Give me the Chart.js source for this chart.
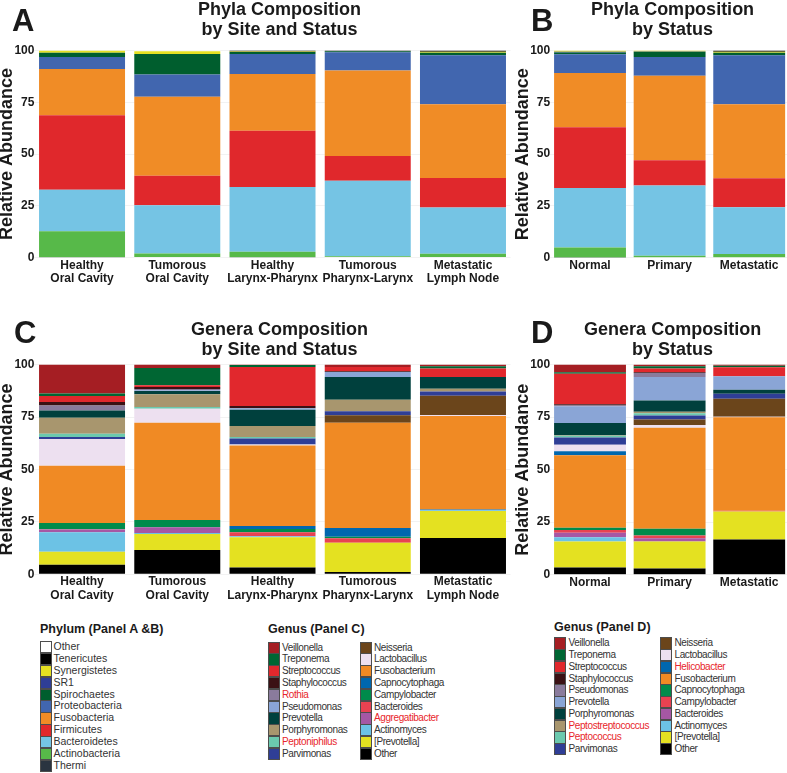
<!DOCTYPE html>
<html><head><meta charset="utf-8">
<script src="https://cdn.jsdelivr.net/npm/chart.js@4.4.1/dist/chart.umd.min.js"></script>
<style>
html,body{margin:0;padding:0;background:#fff;}
body{width:787px;height:773px;position:relative;overflow:hidden;font-family:'Liberation Sans',Arial,sans-serif;}
canvas{position:absolute;}
.letter{position:absolute;font-weight:bold;font-size:31px;line-height:30px;color:#1a1a1a;}
.lgtitle{position:absolute;font-weight:bold;font-size:12.5px;line-height:14px;color:#1a1a1a;white-space:nowrap;}
.lgbox{position:absolute;box-sizing:border-box;border:1px solid #4d4d4d;}
.lgtext{position:absolute;white-space:nowrap;color:#333;}
</style></head>
<body>
<canvas id="cA" width="512" height="292" style="left:0;top:0"></canvas>
<canvas id="cB" width="278" height="292" style="left:512px;top:0"></canvas>
<canvas id="cC" width="512" height="288" style="left:0;top:320px"></canvas>
<canvas id="cD" width="278" height="288" style="left:512px;top:320px"></canvas>
<div class="letter" style="left:12px;top:6px">A</div>
<div class="letter" style="left:531px;top:6px">B</div>
<div class="letter" style="left:14px;top:318px">C</div>
<div class="letter" style="left:531px;top:318px">D</div>
<div class="lgtitle" style="left:40px;top:622px">Phylum (Panel A &amp;B)</div>
<div class="lgtitle" style="left:268px;top:622px">Genus (Panel C)</div>
<div class="lgtitle" style="left:554px;top:620px">Genus (Panel D)</div>
<div id="legends"></div>
<script>
const FONT = "'Liberation Sans', Arial, sans-serif";

// ---- categories / ticks ----
const siteLabels = [['Healthy','Oral Cavity'],['Tumorous','Oral Cavity'],['Healthy','Larynx-Pharynx'],['Tumorous','Pharynx-Larynx'],['Metastatic','Lymph Node']];
const statusLabels = ['Normal','Primary','Metastatic'];
const yTicks = [0,25,50,75,100];

// ---- phyla (stack order bottom -> top) ----
const phylumNames = ['Thermi','Actinobacteria','Bacteroidetes','Firmicutes','Fusobacteria','Proteobacteria','Spirochaetes','SR1','Synergistetes','Tenericutes','Other'];
const phylumColors = ['#2a3440','#57b949','#75c4e4','#e0282c','#f08c26','#4166af','#005e2e','#2f3e96','#e5e022','#000000','#ffffff'];
const phylumLegendOrder = ['Other','Tenericutes','Synergistetes','SR1','Spirochaetes','Proteobacteria','Fusobacteria','Firmicutes','Bacteroidetes','Actinobacteria','Thermi'];

// Panel A values (one array per bar, in phylumNames order)
const phylaHealthyOral     = [0.1, 12.5, 20.1, 36.0, 22.4,  5.8,  2.0, 0.0, 1.1, 0.0, 0.0];
const phylaTumorousOral    = [0.0,  1.9, 23.3, 14.3, 38.2, 10.7, 10.0, 0.0, 1.3, 0.0, 0.3];
const phylaHealthyLarPhar  = [0.1,  2.6, 31.3, 27.2, 27.5,  9.6,  1.0, 0.0, 0.3, 0.4, 0.0];
const phylaTumorousPharLar = [0.0,  0.6, 36.5, 11.9, 41.4,  8.8,  0.5, 0.0, 0.0, 0.3, 0.0];
const phylaMetLymph        = [0.0,  1.8, 22.3, 14.3, 35.7, 23.6,  1.3, 0.0, 0.4, 0.6, 0.0];
// Panel B values
const phylaNormal     = [0.1, 4.8, 28.8, 29.3, 26.2,  9.0, 0.9, 0.3, 0.6, 0.0, 0.0];
const phylaPrimary    = [0.0, 1.0, 33.9, 12.2, 40.7,  9.1, 2.5, 0.2, 0.4, 0.0, 0.0];
const phylaMetastatic = [0.0, 1.8, 22.6, 14.0, 35.7, 23.6, 1.3, 0.0, 0.4, 0.6, 0.0];

// ---- genera panel C (stack order bottom -> top) ----
const genusNamesC = ['Other','[Prevotella]','Actinomyces','Aggregatibacter','Bacteroides','Campylobacter','Capnocytophaga','Fusobacterium','Lactobacillus','Neisseria','Parvimonas','Peptoniphilus','Porphyromonas','Prevotella','Pseudomonas','Rothia','Staphylococcus','Streptococcus','Treponema','Veillonella'];
const genusColorsC = ['#000000','#e4e121','#6cc2e5','#a657a4','#e84251','#008b4b','#0067ae','#f08a24','#ede0f0','#6b451b','#2f3e96','#6bc9ae','#a8966e','#00403d','#8aa5d6','#8a7b9c','#3b1114','#e1282d','#006633','#a51e23'];
const redGenusC = ['Rothia','Peptoniphilus','Aggregatibacter'];

const generaHealthyOral     = [ 4.5,  6.2, 9.3, 1.3, 0.2, 2.9, 0.0, 27.3, 12.8, 0.0, 0.9, 1.6, 7.7,  3.4, 0.0, 2.4, 1.7,  2.8, 1.2, 13.8];
const generaTumorousOral    = [11.5,  7.7, 0.5, 2.7, 0.0, 3.4, 0.0, 46.5,  6.6, 0.0, 0.0, 0.9, 6.0,  1.6, 0.4, 0.5, 1.0,  0.9, 8.2,  1.6];
const generaHealthyLarPhar  = [ 3.2, 14.4, 0.5, 0.0, 1.9, 1.6, 1.4, 38.4,  0.5, 0.0, 2.9, 0.6, 5.3,  7.7, 0.8, 0.0, 1.0, 18.7, 0.9,  0.2];
const generaTumorousPharLar = [ 1.0, 14.0, 0.0, 0.0, 2.1, 0.8, 4.2, 50.2,  0.0, 3.5, 2.0, 0.0, 5.4, 10.9, 2.4, 0.0, 0.3,  2.1, 0.0,  1.1];
const generaMetLymph        = [17.3, 12.8, 0.4, 0.0, 0.0, 0.0, 0.4, 44.6,  0.5, 9.1, 2.1, 0.0, 1.3,  5.6, 0.0, 0.0, 0.0,  4.0, 1.1,  0.8];

// ---- genera panel D (stack order bottom -> top) ----
const genusNamesD = ['Other','[Prevotella]','Actinomyces','Bacteroides','Campylobacter','Capnocytophaga','Fusobacterium','Helicobacter','Lactobacillus','Neisseria','Parvimonas','Peptococcus','Peptostreptococcus','Porphyromonas','Prevotella','Pseudomonas','Staphylococcus','Streptococcus','Treponema','Veillonella'];
const genusColorsD = ['#000000','#e4e121','#6cc2e5','#a657a4','#e84251','#008b4b','#f08a24','#0067ae','#ede0f0','#6b451b','#2f3e96','#6bc9ae','#a8966e','#00403d','#8aa5d6','#8a7b9c','#3b1114','#e1282d','#006633','#a51e23'];
const redGenusD = ['Helicobacter','Peptostreptococcus','Peptococcus'];

const generaNormal     = [ 3.4, 12.4, 2.0, 2.2, 1.3, 1.1, 34.4, 1.9, 3.1, 0.0, 3.5, 0.8, 0.3, 5.8,  8.0, 0.3, 0.6, 14.6, 0.6, 3.7];
const generaPrimary    = [ 2.9, 12.9, 0.0, 1.6, 1.3, 3.2, 48.0, 0.0, 1.3, 2.7, 1.9, 1.0, 0.8, 5.3, 11.2, 1.9, 0.3,  1.8, 1.1, 0.8];
const generaMetastatic = [16.8, 13.3, 0.0, 0.0, 0.3, 0.0, 44.5, 0.0, 0.3, 8.5, 2.4, 0.0, 0.0, 1.9,  6.4, 0.0, 0.0,  4.3, 0.8, 0.5];

function makeDatasets(names, colors, bars, barPct) {
  return names.map((n, i) => ({
    label: n,
    data: bars.map(b => b[i]),
    backgroundColor: colors[i],
    borderWidth: 0,
    barPercentage: barPct,
    categoryPercentage: 1
  }));
}

// shifts the (chart-area-wide) title block horizontally
const titleShift = {
  id: 'titleShift',
  afterLayout(chart, args, opts) {
    const tb = chart.titleBlock;
    if (tb && opts.dx) { tb.left += opts.dx; tb.right += opts.dx; }
  }
};

function build(id, labels, names, colors, bars, titleLines, cfg) {
  new Chart(document.getElementById(id), {
    type: 'bar',
    data: { labels: labels, datasets: makeDatasets(names, colors, bars, cfg.barPct) },
    plugins: [titleShift],
    options: {
      responsive: false,
      animation: false,
      layout: { padding: { left: cfg.padL, right: cfg.padR, top: 0, bottom: cfg.padB } },
      plugins: {
        legend: { display: false },
        tooltip: { enabled: false },
        titleShift: { dx: cfg.titleDx },
        title: {
          display: true, text: titleLines, fullSize: false, color: '#1a1a1a',
          font: { family: FONT, size: 18, weight: 'bold', lineHeight: 1.1 },
          padding: { top: 0, bottom: cfg.titlePad }
        }
      },
      scales: {
        x: {
          stacked: true,
          grid: { display: false, drawTicks: false },
          border: { display: false },
          ticks: { autoSkip: false, maxRotation: 0, minRotation: 0, padding: 1, color: '#1a1a1a',
                   font: { family: FONT, size: 12, weight: 'bold', lineHeight: 1.15 } }
        },
        y: {
          stacked: true, min: 0, max: 100,
          afterBuildTicks: s => { s.ticks = yTicks.map(v => ({ value: v })); },
          grid: { color: 'rgba(0,0,0,0.05)', drawTicks: false },
          border: { display: false },
          ticks: { padding: 0, color: '#1a1a1a', font: { family: FONT, size: 12, weight: 'bold' } },
          title: { display: true, text: 'Relative Abundance', color: '#1a1a1a', padding: 0,
                   font: { family: FONT, size: 18, weight: 'bold', lineHeight: 0.8 } }
        }
      }
    }
  });
}

build('cA', siteLabels, phylumNames, phylumColors,
  [phylaHealthyOral, phylaTumorousOral, phylaHealthyLarPhar, phylaTumorousPharLar, phylaMetLymph],
  ['Phyla Composition', 'by Site and Status'], { barPct: 0.903, padL: 0, padR: 1.4, padB: 5, titlePad: 11, titleDx: 7 });
build('cB', statusLabels, phylumNames, phylumColors,
  [phylaNormal, phylaPrimary, phylaMetastatic],
  ['Phyla Composition', 'by Status'], { barPct: 0.903, padL: 3.8, padR: 1, padB: 18.5, titlePad: 11, titleDx: 3 });
build('cC', siteLabels, genusNamesC, genusColorsC,
  [generaHealthyOral, generaTumorousOral, generaHealthyLarPhar, generaTumorousPharLar, generaMetLymph],
  ['Genera Composition', 'by Site and Status'], { barPct: 0.903, padL: 0, padR: 1.4, padB: 4.2, titlePad: 5, titleDx: 7 });
build('cD', statusLabels, genusNamesD, genusColorsD,
  [generaNormal, generaPrimary, generaMetastatic],
  ['Genera Composition', 'by Status'], { barPct: 0.903, padL: 3.8, padR: 1, padB: 17.5, titlePad: 5, titleDx: 3 });

// ---- HTML legends ----
const host = document.getElementById('legends');
function legendColumn(items, colorOf, x, y, step, textDx, fontSize, ls, reds) {
  items.forEach((name, i) => {
    const top = y + i * step;
    const b = document.createElement('div');
    b.className = 'lgbox';
    b.style.left = x + 'px'; b.style.top = top + 'px';
    b.style.width = '12px'; b.style.height = (step + 0.5) + 'px';
    b.style.background = colorOf(name);
    host.appendChild(b);
    const t = document.createElement('div');
    t.className = 'lgtext';
    t.textContent = name;
    t.style.left = (x + textDx) + 'px'; t.style.top = top + 'px';
    t.style.height = step + 'px'; t.style.lineHeight = step + 'px';
    t.style.fontSize = fontSize + 'px'; t.style.letterSpacing = ls + 'px';
    if (reds.includes(name)) t.style.color = '#e8262c';
    host.appendChild(t);
  });
}
const phyColor = n => phylumColors[phylumNames.indexOf(n)];
legendColumn(phylumLegendOrder, phyColor, 39.5, 641, 11.88, 14, 10.5, 0, []);

const revC = genusNamesC.slice().reverse();
const colC = n => genusColorsC[genusNamesC.indexOf(n)];
legendColumn(revC.slice(0, 10), colC, 268, 641.7, 11.76, 14, 10, -0.4, redGenusC);
legendColumn(revC.slice(10), colC, 360, 641.7, 11.76, 14, 10, -0.4, redGenusC);

const revD = genusNamesD.slice().reverse();
const colD = n => genusColorsD[genusNamesD.indexOf(n)];
legendColumn(revD.slice(0, 10), colD, 554, 637.3, 11.77, 14.5, 10, -0.4, redGenusD);
legendColumn(revD.slice(10), colD, 659.5, 637.3, 11.77, 15, 10, -0.4, redGenusD);
</script>
</body></html>
